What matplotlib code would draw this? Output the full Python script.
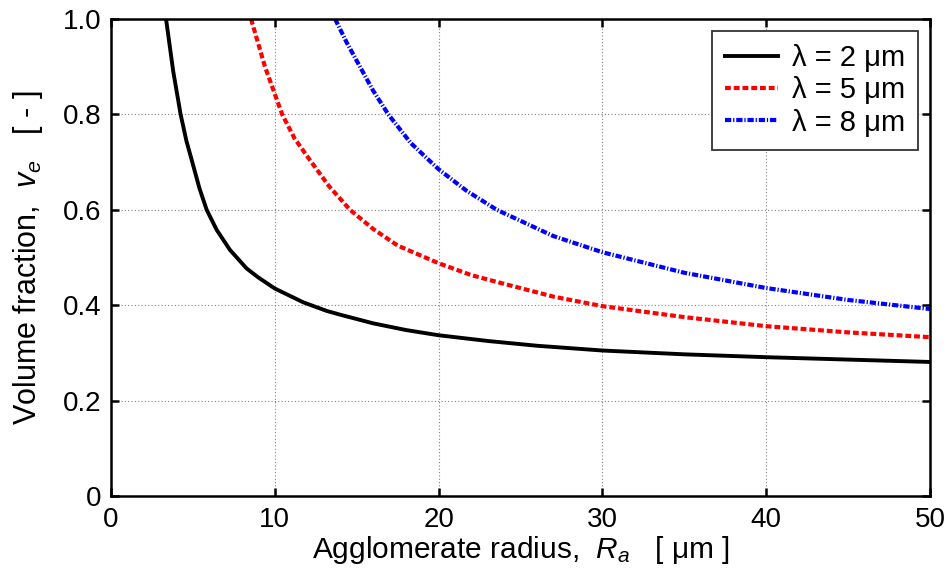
import numpy as np
import matplotlib
matplotlib.use("Agg")
import matplotlib.pyplot as plt

plt.rcParams['font.family'] = ['Liberation Sans', 'DejaVu Sans']
plt.rcParams['mathtext.fontset'] = 'custom'
plt.rcParams['mathtext.rm'] = 'Liberation Sans'
plt.rcParams['mathtext.it'] = 'Liberation Sans:italic'

# values
r_2um = [3.36, 3.8, 4.25, 4.6, 4.93, 5.4, 5.84, 6.45, 7.26, 8.28, 9, 10, 11.74, 13.17,
         14, 16, 18, 20, 23, 26, 30, 35, 40, 45, 50]
v_2um = [1.0, 0.89, 0.80, 0.745, 0.704, 0.645, 0.60, 0.558, 0.516, 0.477, 0.458, 0.435,
         0.406, 0.388, 0.380, 0.362, 0.348, 0.337, 0.325, 0.315, 0.305, 0.297, 0.291,
         0.286, 0.281]

r_5um = [8.55, 9.4, 10.45, 11.2, 12.15, 13.3, 14.59, 16, 17.5, 20, 22, 23.75, 27, 30,
         35, 40, 45, 50]
v_5um = [1.0, 0.90, 0.80, 0.75, 0.704, 0.65, 0.60, 0.56, 0.525, 0.488, 0.463, 0.447,
         0.418, 0.398, 0.375, 0.356, 0.343, 0.333]

r_8um = [13.68, 14.4, 15.2, 16, 16.93, 18.3, 20, 21.7, 23.55, 27, 30, 35, 40, 45, 50]
v_8um = [1.0, 0.95, 0.90, 0.85, 0.80, 0.74, 0.685, 0.64, 0.60, 0.545, 0.511, 0.468,
         0.436, 0.411, 0.392]

labels = ['λ = 2 μm', 'λ = 5 μm', 'λ = 8 μm']
xticks = [0, 10, 20, 30, 40, 50]
yticks = [0, 0.2, 0.4, 0.6, 0.8, 1.0]
yticklabels = ['0', '0.2', '0.4', '0.6', '0.8', '1.0']

fig = plt.figure(figsize=(9.47, 5.78), dpi=100)
ax = fig.add_axes([111 / 947, 1 - 496 / 578, 819 / 947, 477 / 578])

ax.plot(r_2um, v_2um, color='black', lw=2.8, label=labels[0])
ax.plot(r_5um, v_5um, color='red', lw=3.0, dashes=(1.4, 0.7), label=labels[1])
ax.plot(r_8um, v_8um, color='blue', lw=3.0, dashes=(1.5, 0.45, 0.3, 0.45), label=labels[2])

ax.set_xlim(0, 50)
ax.set_ylim(0, 1)
ax.set_xticks(xticks)
ax.set_yticks(yticks)
ax.set_yticklabels(yticklabels)
ax.grid(True, color='#808080', linestyle=(0, (1, 2)), linewidth=0.8)
ax.tick_params(direction='in', length=6, width=1.8, top=True, right=True,
               labelsize=20)
ax.tick_params(axis='x', pad=8)
ax.tick_params(axis='y', pad=7)
for s in ax.spines.values():
    s.set_linewidth(1.8)

ax.set_xlabel(r'Agglomerate radius,  $R_{a}$   [ μm ]', fontsize=21.5, labelpad=1)
ax.set_ylabel(r'Volume fraction,  $v_{e}$   [ - ]', fontsize=22, labelpad=13)

leg = ax.legend(loc='upper right', fontsize=21, fancybox=False, framealpha=1,
                edgecolor='#333333', handlelength=1.8, handletextpad=0.5,
                borderaxespad=0.4, labelspacing=0.15, borderpad=0.45)
leg.get_frame().set_linewidth(1.3)

fig.savefig('out.png', dpi=100)
